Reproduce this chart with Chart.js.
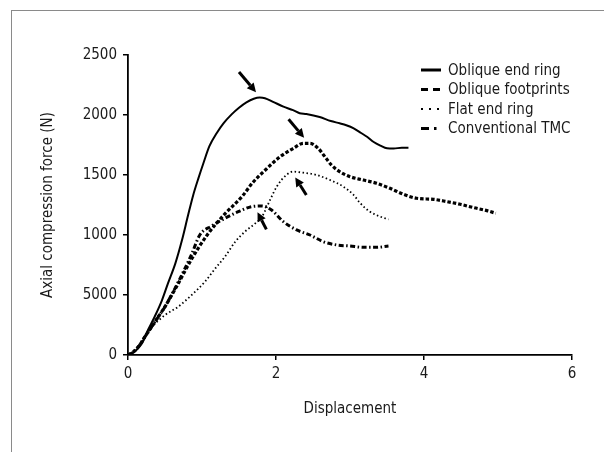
<!DOCTYPE html>
<html lang="en">
<head>
  <meta charset="UTF-8">
  <title>Axial compression force vs displacement</title>
  <script src="https://cdn.jsdelivr.net/npm/chart.js"></script>
  <style>
    body { margin: 0; background: #fff; }
    #wrap { position: relative; width: 604px; height: 452px; }
    #frame { position: absolute; left: 11px; top: 10px; right: 0; bottom: 0;
             border-left: 1px solid #8a8a8a; border-top: 1px solid #8a8a8a; }
    canvas { position: absolute; left: 0; top: 0; }
  </style>
</head>
<body>
  <div id="wrap">
    <div id="frame"></div>
    <canvas id="forceChart" width="604" height="452"></canvas>
  </div>

  <script>
    const FONT = '"DejaVu Sans Condensed", "Liberation Sans Narrow", sans-serif';
    const FSIZE = 15;

    const seriesNames = ['Oblique end ring', 'Oblique footprints', 'Flat end ring', 'Conventional TMC'];

    // Oblique end ring (solid)
    const obliqueRingX = [0, 0.05, 0.09, 0.19, 0.27, 0.36, 0.46, 0.54, 0.64, 0.73, 0.81, 0.88, 0.95, 1.02, 1.10, 1.20, 1.29, 1.40, 1.50, 1.60, 1.70, 1.78, 1.85, 1.96, 2.10, 2.23, 2.32, 2.41, 2.59, 2.74, 2.86, 2.95, 3.05, 3.15, 3.23, 3.32, 3.41, 3.50, 3.59, 3.70, 3.79];
    const obliqueRingY = [0, 8, 28, 97, 208, 319, 458, 597, 764, 958, 1160, 1330, 1470, 1600, 1740, 1850, 1930, 2005, 2060, 2105, 2135, 2145, 2140, 2110, 2070, 2040, 2015, 2008, 1983, 1950, 1931, 1915, 1889, 1850, 1819, 1775, 1745, 1722, 1720, 1728, 1728];

    // Oblique footprints (dashed)
    const footprintsX = [0, 0.06, 0.14, 0.23, 0.32, 0.41, 0.50, 0.68, 0.86, 1.07, 1.30, 1.54, 1.69, 1.87, 2.05, 2.23, 2.37, 2.46, 2.57, 2.66, 2.75, 2.86, 3.00, 3.18, 3.36, 3.54, 3.72, 3.90, 4.13, 4.31, 4.49, 4.67, 4.85, 4.97];
    const footprintsY = [0, 20, 69, 153, 236, 319, 403, 597, 800, 1000, 1170, 1320, 1440, 1550, 1650, 1720, 1764, 1764, 1722, 1653, 1583, 1528, 1486, 1458, 1431, 1389, 1340, 1306, 1297, 1278, 1256, 1228, 1203, 1181];

    // Flat end ring (dotted)
    const flatRingX = [0, 0.10, 0.23, 0.30, 0.50, 0.68, 0.86, 1.04, 1.18, 1.31, 1.45, 1.58, 1.72, 1.81, 1.92, 2.01, 2.14, 2.23, 2.37, 2.55, 2.73, 2.91, 3.05, 3.14, 3.27, 3.41, 3.52];
    const flatRingY = [0, 40, 150, 215, 333, 403, 500, 611, 722, 819, 944, 1028, 1097, 1153, 1292, 1403, 1500, 1528, 1519, 1500, 1458, 1403, 1333, 1264, 1194, 1153, 1130];

    // Conventional TMC (dash-dot)
    const tmcX = [0, 0.06, 0.14, 0.23, 0.32, 0.41, 0.50, 0.68, 0.86, 0.97, 1.13, 1.31, 1.49, 1.67, 1.81, 1.94, 2.10, 2.28, 2.46, 2.64, 2.82, 3.00, 3.18, 3.36, 3.52];
    const tmcY = [0, 20, 69, 153, 236, 319, 403, 610, 840, 1000, 1075, 1139, 1194, 1236, 1242, 1208, 1111, 1042, 1000, 944, 917, 908, 897, 897, 908];

    const xTickValues = [0, 2, 4, 6];
    const yTickValues = [0, 500, 1000, 1500, 2000, 2500];
    const yTickLabels = ['0', '5000', '1000', '1500', '2000', '2500'];

    // arrows pointing at the peaks (data units): tail -> tip
    const arrowTailX = [1.50, 2.17, 2.41, 1.87];
    const arrowTailY = [2358, 1965, 1333, 1047];
    const arrowTipX = [1.73, 2.38, 2.26, 1.75];
    const arrowTipY = [2190, 1810, 1480, 1190];

    const lineDashes = [[], [3.5, 2], [1.5, 2.5], [5, 2.5, 1.5, 2.5]];
    const lineWidths = [2, 3.2, 1.8, 3];
    const legendDashes = [[], [7, 5], [2, 6], [8, 5, 2.5, 20]];
    const legendWidths = [3, 3, 2, 3];

    function toPoints(xs, ys) {
      return xs.map((x, i) => ({ x: x, y: ys[i] }));
    }

    const seriesData = [
      toPoints(obliqueRingX, obliqueRingY),
      toPoints(footprintsX, footprintsY),
      toPoints(flatRingX, flatRingY),
      toPoints(tmcX, tmcY)
    ];

    const legendPlugin = {
      id: 'sideLegend',
      afterDraw(chart) {
        const ctx = chart.ctx;
        ctx.save();
        ctx.font = FSIZE + 'px ' + FONT;
        ctx.fillStyle = '#1a1a1a';
        ctx.textBaseline = 'middle';
        seriesNames.forEach((name, i) => {
          const y = 70 + i * 19.5;
          ctx.strokeStyle = '#000';
          ctx.lineWidth = legendWidths[i];
          ctx.setLineDash(legendDashes[i]);
          ctx.beginPath();
          ctx.moveTo(421, y);
          ctx.lineTo(441, y);
          ctx.stroke();
          ctx.setLineDash([]);
          ctx.fillText(name, 448, y + 1);
        });
        ctx.restore();
      }
    };

    const arrowPlugin = {
      id: 'peakArrows',
      afterDatasetsDraw(chart) {
        const ctx = chart.ctx;
        const xs = chart.scales.x, ys = chart.scales.y;
        ctx.save();
        ctx.fillStyle = '#000';
        ctx.strokeStyle = '#000';
        ctx.lineWidth = 3;
        arrowTipX.forEach((tx, i) => {
          const x1 = xs.getPixelForValue(arrowTailX[i]), y1 = ys.getPixelForValue(arrowTailY[i]);
          const x2 = xs.getPixelForValue(tx), y2 = ys.getPixelForValue(arrowTipY[i]);
          const a = Math.atan2(y2 - y1, x2 - x1);
          const head = 9, half = 4.5;
          const bx = x2 - head * Math.cos(a), by = y2 - head * Math.sin(a);
          ctx.beginPath();
          ctx.moveTo(x1, y1);
          ctx.lineTo(bx, by);
          ctx.stroke();
          ctx.beginPath();
          ctx.moveTo(x2, y2);
          ctx.lineTo(bx + half * Math.sin(a), by - half * Math.cos(a));
          ctx.lineTo(bx - half * Math.sin(a), by + half * Math.cos(a));
          ctx.closePath();
          ctx.fill();
        });
        ctx.restore();
      }
    };

    new Chart(document.getElementById('forceChart'), {
      type: 'line',
      data: {
        datasets: seriesNames.map((name, i) => ({
          label: name,
          data: seriesData[i],
          borderColor: '#000',
          borderWidth: lineWidths[i],
          borderDash: lineDashes[i],
          pointRadius: 0,
          cubicInterpolationMode: 'monotone',
          fill: false
        }))
      },
      options: {
        responsive: false,
        animation: false,
        devicePixelRatio: 1,
        layout: { padding: { top: 55, right: 32, left: 0, bottom: 0 } },
        plugins: { legend: { display: false }, tooltip: { enabled: false } },
        scales: {
          x: {
            type: 'linear',
            min: 0, max: 6,
            afterBuildTicks: (s) => { s.ticks = xTickValues.map(v => ({ value: v })); },
            afterFit: (s) => { s.height = 97; },
            grid: { drawOnChartArea: false, drawTicks: true, tickLength: 5, color: '#000', lineWidth: 1.5 },
            border: { color: '#000', width: 1.8 },
            ticks: { color: '#1a1a1a', padding: 5, font: { family: FONT, size: FSIZE } },
            title: { display: true, text: 'Displacement', color: '#1a1a1a', padding: { bottom: 34 }, font: { family: FONT, size: FSIZE } }
          },
          y: {
            type: 'linear',
            min: 0, max: 2500,
            afterBuildTicks: (s) => { s.ticks = yTickValues.map(v => ({ value: v })); },
            afterFit: (s) => { s.width = 128; },
            grid: { drawOnChartArea: false, drawTicks: true, tickLength: 5, color: '#000', lineWidth: 1.5 },
            border: { color: '#000', width: 1.8 },
            ticks: {
              color: '#1a1a1a', padding: 6, font: { family: FONT, size: FSIZE },
              callback: (v) => yTickLabels[yTickValues.indexOf(v)]
            },
            title: { display: true, text: 'Axial compression force (N)', color: '#1a1a1a', padding: { top: 39 }, font: { family: FONT, size: FSIZE } }
          }
        }
      },
      plugins: [arrowPlugin, legendPlugin]
    });
  </script>
</body>
</html>
